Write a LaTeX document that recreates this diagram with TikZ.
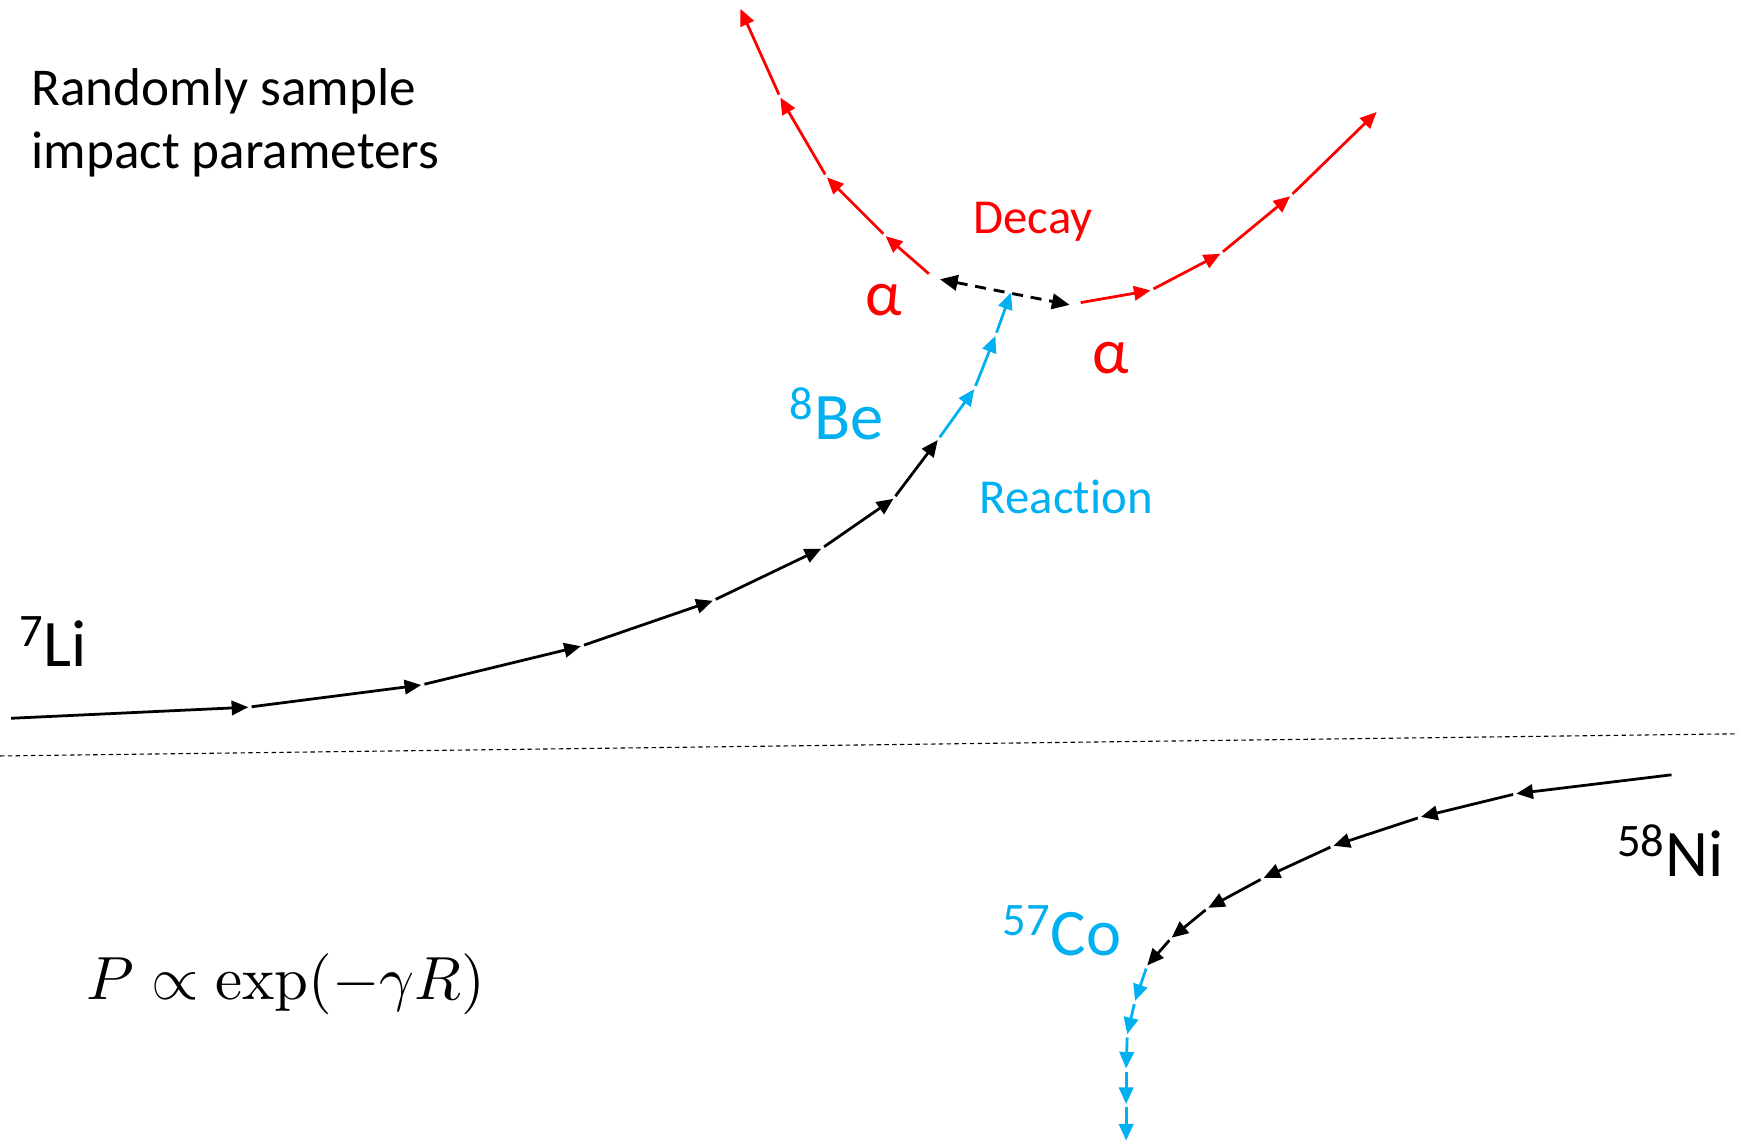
\documentclass[tikz,border=0pt]{standalone}
\usepackage[no-math]{fontspec}
\setmainfont{Carlito}[Ligatures=NoCommon]
\usetikzlibrary{arrows.meta}
\definecolor{tred}{HTML}{FF0000}
\definecolor{tblue}{HTML}{00B0F0}
\begin{document}
\begin{tikzpicture}[x=0.5pt,y=-0.5pt,
  seg/.style={line width=1.25pt,-{Triangle[length=7.5pt,width=6.5pt]},shorten <=1.5pt},
  blk/.style={seg,black},
  rd/.style={seg,tred},
  bl/.style={seg,tblue},
  lbl/.style={inner sep=0pt},
]
\useasboundingbox (0,0) rectangle (1568,1030);
% 7Li track
\coordinate (L0) at (10,648);
\coordinate (L1) at (224,638);
\coordinate (L2) at (380,618);
\coordinate (L3) at (524,583);
\coordinate (L4) at (643,542);
\coordinate (L5) at (741,495);
\coordinate (L6) at (806,450);
\coordinate (L7) at (846,397);
\draw[blk,shorten <=0pt] (L0) -- (L1);
\draw[blk] (L1) -- (L2);
\draw[blk] (L2) -- (L3);
\draw[blk] (L3) -- (L4);
\draw[blk] (L4) -- (L5);
\draw[blk] (L5) -- (L6);
\draw[blk] (L6) -- (L7);
% 8Be track
\coordinate (B1) at (879,351);
\coordinate (B2) at (898,303);
\coordinate (B3) at (912,264);
\draw[bl] (L7) -- (B1);
\draw[bl] (B1) -- (B2);
\draw[bl] (B2) -- (B3);
% dashed double arrow
\coordinate (D1) at (848,252);
\coordinate (D2) at (965,275);
\draw[line width=1.3pt,dash pattern=on 5pt off 3.5pt,{Triangle[length=8pt,width=7pt]}-{Triangle[length=8pt,width=7pt]}] (D1) -- (D2);
% left alpha
\coordinate (A0) at (838,247);
\coordinate (A1) at (799,213);
\coordinate (A2) at (746,160);
\coordinate (A3) at (704,88);
\coordinate (A4) at (668,8);
\draw[rd,shorten <=0pt] (A0) -- (A1);
\draw[rd] (A1) -- (A2);
\draw[rd] (A2) -- (A3);
\draw[rd] (A3) -- (A4);
% right alpha
\coordinate (C0) at (975,273);
\coordinate (C1) at (1038,262);
\coordinate (C2) at (1101,229);
\coordinate (C3) at (1164,177);
\coordinate (C4) at (1242,101);
\draw[rd,shorten <=0pt] (C0) -- (C1);
\draw[rd] (C1) -- (C2);
\draw[rd] (C2) -- (C3);
\draw[rd] (C3) -- (C4);
% 58Ni track
\coordinate (N0) at (1508,699);
\coordinate (N1) at (1368,716);
\coordinate (N2) at (1282,737);
\coordinate (N3) at (1203,763);
\coordinate (N4) at (1140,792);
\coordinate (N5) at (1090,819);
\coordinate (N6) at (1057,846);
\coordinate (N7) at (1035,871);
\draw[blk,shorten <=0pt] (N0) -- (N1);
\draw[blk] (N1) -- (N2);
\draw[blk] (N2) -- (N3);
\draw[blk] (N3) -- (N4);
\draw[blk] (N4) -- (N5);
\draw[blk] (N5) -- (N6);
\draw[blk] (N6) -- (N7);
% 57Co track
\coordinate (K1) at (1024,903);
\coordinate (K2) at (1017,933);
\coordinate (K3) at (1016,964);
\coordinate (K4) at (1016,996);
\coordinate (K5) at (1016,1029);
\draw[bl] (N7) -- (K1);
\draw[bl] (K1) -- (K2);
\draw[bl] (K2) -- (K3);
\draw[bl] (K3) -- (K4);
\draw[bl] (K4) -- (K5);
% axis
\coordinate (H0) at (0,682);
\coordinate (H1) at (1568,662);
\draw[line width=0.5pt,dash pattern=on 2pt off 1.5pt] (H0) -- (H1);
% labels
\node[lbl,anchor=west,align=left,font=\fontsize{24}{28.5}\selectfont] (title) at (28,111) {Randomly sample\\impact parameters};
\node[lbl,text=tred,font=\fontsize{22}{26}\selectfont] (decay) at (932,200) {Decay};
\node[lbl,text=tred,font=\fontsize{29}{34}\selectfont] (al1) at (797,271) {α};
\node[lbl,text=tred,font=\fontsize{29}{34}\selectfont] (al2) at (1002,323) {α};
\node[lbl,text=tblue,font=\fontsize{30}{36}\selectfont] (be) at (755,373) {\textsuperscript{8}Be};
\node[lbl,text=tblue,font=\fontsize{22}{26}\selectfont] (reac) at (962,448) {Reaction};
\node[lbl,font=\fontsize{30}{36}\selectfont] (li) at (48,579) {\textsuperscript{7}Li};
\node[lbl,font=\fontsize{30}{36}\selectfont] (ni) at (1507,767) {\textsuperscript{58}Ni};
\node[lbl,text=tblue,font=\fontsize{30}{36}\selectfont] (co) at (958,840) {\textsuperscript{57}Co};
\node[lbl,scale=2.75] (form) at (258,888) {$P\propto\exp(-\gamma R)$};
\end{tikzpicture}
\end{document}
